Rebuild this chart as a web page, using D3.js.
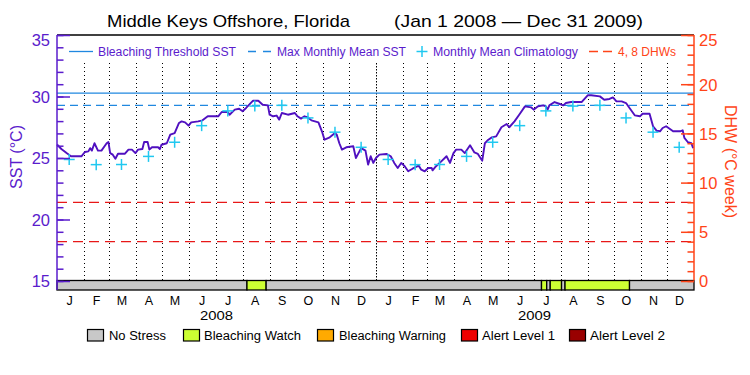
<!DOCTYPE html>
<html><head><meta charset="utf-8">
<script src="https://cdn.jsdelivr.net/npm/d3@7"></script>
<style>
body{margin:0;background:#fff}
svg{display:block}
text{font-family:"Liberation Sans",Arial,sans-serif}
</style>
</head><body>
<svg id="c" width="750" height="375"></svg>
<script>
// ---------------- data ----------------
const sstDates = [
"2008-01-01","2008-01-06","2008-01-12","2008-01-17","2008-01-29","2008-02-02","2008-02-06","2008-02-08","2008-02-10","2008-02-13",
"2008-02-17","2008-02-21","2008-02-27","2008-02-29","2008-03-02","2008-03-05","2008-03-08","2008-03-11","2008-03-19","2008-03-23",
"2008-03-27","2008-03-31","2008-04-03","2008-04-08","2008-04-10","2008-04-14","2008-04-16","2008-04-19","2008-04-26","2008-04-28",
"2008-04-30","2008-05-06","2008-05-10","2008-05-15","2008-05-20","2008-05-23","2008-05-27","2008-05-31","2008-06-03","2008-06-11",
"2008-06-16","2008-06-22","2008-07-04","2008-07-08","2008-07-15","2008-07-17","2008-07-23","2008-07-28","2008-08-01","2008-08-05",
"2008-08-13","2008-08-19","2008-08-24","2008-08-30","2008-09-01","2008-09-05","2008-09-09","2008-09-12","2008-09-15","2008-09-22",
"2008-09-30","2008-10-03","2008-10-07","2008-10-11","2008-10-15","2008-10-19","2008-10-27","2008-10-31","2008-11-03","2008-11-09",
"2008-11-15","2008-11-17","2008-11-20","2008-11-23","2008-11-28","2008-12-06","2008-12-09","2008-12-12","2008-12-15","2008-12-20",
"2008-12-23","2008-12-26","2008-12-29","2009-01-01","2009-01-05","2009-01-13","2009-01-18","2009-01-22","2009-01-26","2009-01-30",
"2009-02-03","2009-02-07","2009-02-12","2009-02-19","2009-02-22","2009-02-26","2009-03-02","2009-03-06","2009-03-07","2009-03-11",
"2009-03-17","2009-03-23","2009-03-27","2009-03-31","2009-04-03","2009-04-09","2009-04-13","2009-04-19","2009-04-24","2009-04-28",
"2009-05-03","2009-05-06","2009-05-10","2009-05-14","2009-05-19","2009-05-25","2009-05-31","2009-06-03","2009-06-09","2009-06-15",
"2009-06-21","2009-06-28","2009-07-01","2009-07-06","2009-07-12","2009-07-15","2009-07-17","2009-07-19","2009-07-25","2009-07-31",
"2009-08-04","2009-08-07","2009-08-13","2009-08-25","2009-09-01","2009-09-05","2009-09-15","2009-09-20","2009-09-26","2009-09-30",
"2009-10-04","2009-10-10","2009-10-15","2009-10-19","2009-10-25","2009-10-31","2009-11-03","2009-11-11","2009-11-15","2009-11-19",
"2009-11-23","2009-11-26","2009-11-30","2009-12-04","2009-12-08","2009-12-16","2009-12-19","2009-12-21","2009-12-25","2009-12-29",
"2009-12-31"];
const sstValues = [
26.1,25.73,25.4,25.14,25.14,25.49,25.54,25.8,25.6,26.2,
25.6,25.6,26.2,26.3,25.4,25.27,24.94,25.35,25.35,25.68,
25.68,25.4,25.68,25.73,26.3,26.3,25.68,25.87,25.87,25.73,
26.08,26.2,26.9,27.03,27.85,27.98,27.9,27.63,27.9,27.98,
28.06,28.39,28.39,28.74,28.74,28.52,28.93,29.0,28.8,29.07,
29.66,29.66,29.33,29.28,28.52,28.39,28.45,28.12,28.66,28.52,
28.66,28.39,28.2,28.39,28.3,28.06,27.9,27.17,26.49,26.68,
27.03,26.9,26.2,25.68,25.87,25.95,25.0,25.4,25.8,25.6,
24.46,25.14,24.6,25.0,25.27,25.33,25.14,24.6,24.19,24.6,
24.33,23.92,24.13,24.38,24.05,23.92,24.19,24.19,24.0,24.33,
24.73,25.14,24.6,25.4,25.68,25.68,25.4,26.03,25.45,25.33,
24.78,26.2,26.49,26.68,26.76,27.5,27.76,27.5,27.98,28.58,
29.2,29.12,28.93,29.2,29.28,29.2,28.93,29.28,29.55,29.39,
29.28,29.47,29.55,29.55,30.1,30.1,30.01,29.74,29.8,29.93,
29.6,29.6,29.47,29.07,28.47,28.39,28.6,28.6,27.58,27.22,
27.17,27.44,27.58,27.38,27.17,27.17,27.25,26.63,26.28,26.2,
25.8];

const climYears = [2008, 2009];
const climValues = [24.88, 24.46, 24.47, 25.13, 26.28, 27.63, 28.83, 29.22, 29.28, 28.26, 27.1, 25.87];
const bleachingThreshold = 30.28;
const maxMonthlyMean = 29.28;
const dhwLevels = [4, 8];

const monthLabels = ["J","F","M","A","M","J","J","A","S","O","N","D"];
const yearLabels = ["2008","2009"];
const sstTicks = [15,20,25,30,35];
const dhwTicks = [0,5,10,15,20,25];

const statusStart = ["2008-01-01","2008-08-06","2008-08-28","2009-07-10","2009-07-16","2009-07-20","2009-08-02","2009-08-06","2009-10-19"];
const statusEnd   = ["2008-08-06","2008-08-28","2009-07-10","2009-07-16","2009-07-20","2009-08-02","2009-08-06","2009-10-19","2010-01-01"];
const statusLevel = [0,1,0,1,0,1,0,1,0];
const statusNames = ["No Stress","Bleaching Watch","Bleaching Warning","Alert Level 1","Alert Level 2"];

// ---------------- styles ----------------
const statusColors = ["#c8c8c8","#ccff33","#ffaa00","#ee0000","#990000"];
const PURPLE = "#5a1ccc", SSTLINE = "#5010c0", ORANGE = "#ff4418", RED = "#e81818",
      BLUE = "#2088e0", CYAN = "#20c8f0";

const svg = d3.select("#c");
const parse = d3.utcParse("%Y-%m-%d");
const L = 57, R = 694, T = 35, B = 290, BAR_TOP = 280.5;

const x = d3.scaleUtc().domain([parse("2008-01-01"), parse("2010-01-01")]).range([L, R]);
const yS = d3.scaleLinear().domain([15, 35]).range([281, 35]);
const yD = d3.scaleLinear().domain([0, 25]).range([281, 35]);

// ---------------- title ----------------
svg.append("text").attr("x",107).attr("y",27).attr("font-size",17).attr("fill","#000")
  .attr("textLength",243).attr("lengthAdjust","spacingAndGlyphs").text("Middle Keys Offshore, Florida");
svg.append("text").attr("x",394).attr("y",27).attr("font-size",17).attr("fill","#000")
  .attr("textLength",249).attr("lengthAdjust","spacingAndGlyphs").text("(Jan 1 2008 \u2014 Dec 31 2009)");

// ---------------- grid ----------------
const months = d3.utcMonth.range(parse("2008-02-01"), parse("2010-01-01"));
svg.append("g").selectAll("line").data(months).join("line")
  .attr("x1", d => Math.round(x(d)) + 0.5).attr("x2", d => Math.round(x(d)) + 0.5)
  .attr("y1", 63).attr("y2", BAR_TOP)
  .attr("stroke", "#000").attr("stroke-width", 1)
  .attr("stroke-dasharray", d => d.getUTCMonth() === 0 ? "1.5,1.5" : "1,3");

// ---------------- reference lines ----------------
svg.append("line").attr("x1",L).attr("x2",R).attr("y1",yS(bleachingThreshold)).attr("y2",yS(bleachingThreshold))
  .attr("stroke",BLUE).attr("stroke-width",1.3);
svg.append("line").attr("x1",L).attr("x2",R).attr("y1",yS(maxMonthlyMean)).attr("y2",yS(maxMonthlyMean))
  .attr("stroke",BLUE).attr("stroke-width",1.3).attr("stroke-dasharray","8,5");
svg.append("g").selectAll("line").data(dhwLevels).join("line")
  .attr("x1",L).attr("x2",R).attr("y1",d=>yD(d)).attr("y2",d=>yD(d))
  .attr("stroke",RED).attr("stroke-width",1.3).attr("stroke-dasharray","10,6");

// ---------------- SST line ----------------
const sstData = sstDates.map((d,i)=>({date:parse(d), v:sstValues[i]}));
svg.append("path").datum(sstData)
  .attr("d", d3.line().x(d=>x(d.date)).y(d=>yS(d.v)))
  .attr("fill","none").attr("stroke",SSTLINE).attr("stroke-width",1.9).attr("stroke-linejoin","round");

// ---------------- climatology pluses ----------------
const clim = [];
climYears.forEach(yr => climValues.forEach((v,m) => clim.push({date:new Date(Date.UTC(yr,m,15)), v})));
const plus = svg.append("g").selectAll("g").data(clim).join("g")
  .attr("transform", d=>`translate(${x(d.date)},${yS(d.v)})`);
plus.append("line").attr("x1",-5.5).attr("x2",5.5).attr("stroke",CYAN).attr("stroke-width",1.5);
plus.append("line").attr("y1",-5.5).attr("y2",5.5).attr("stroke",CYAN).attr("stroke-width",1.5);

// ---------------- status bar ----------------
svg.append("g").selectAll("rect").data(statusLevel).join("rect")
  .attr("x", (d,i)=>x(parse(statusStart[i])))
  .attr("width", (d,i)=>x(parse(statusEnd[i])) - x(parse(statusStart[i])))
  .attr("y", BAR_TOP).attr("height", B - BAR_TOP)
  .attr("fill", d=>statusColors[d]).attr("stroke","#000").attr("stroke-width",1.3);

// ---------------- axes ----------------
svg.append("line").attr("x1",L).attr("x2",R).attr("y1",T).attr("y2",T).attr("stroke","#000").attr("stroke-width",1.5);
// left axis
const gl = svg.append("g").attr("transform",`translate(${L},0)`)
  .call(d3.axisLeft(yS).tickValues(d3.range(15,36,1)).tickSize(-6.5).tickFormat(""));
gl.select(".domain").remove();
gl.selectAll("line").attr("stroke",PURPLE).attr("stroke-width",1.5);
const glm = svg.append("g").attr("transform",`translate(${L},0)`)
  .call(d3.axisLeft(yS).tickValues(sstTicks).tickSize(-13).tickPadding(7).tickFormat(d3.format("d")));
glm.select(".domain").remove();
glm.selectAll("line").attr("stroke",PURPLE).attr("stroke-width",1.5);
glm.selectAll("text").attr("font-size",16.5).attr("font-family","Liberation Sans").attr("fill",PURPLE)
  .attr("dy", d => d === 35 ? "0.66em" : "0.36em");
svg.append("line").attr("x1",L).attr("x2",L).attr("y1",T).attr("y2",B).attr("stroke",PURPLE).attr("stroke-width",1.5);

// right axis
const gr = svg.append("g").attr("transform",`translate(${R},0)`)
  .call(d3.axisRight(yD).tickValues(d3.range(0,26,1)).tickSize(-6.5).tickFormat(""));
gr.select(".domain").remove();
gr.selectAll("line").attr("stroke",ORANGE).attr("stroke-width",1.5);
const grm = svg.append("g").attr("transform",`translate(${R},0)`)
  .call(d3.axisRight(yD).tickValues(dhwTicks).tickSize(-13).tickPadding(5).tickFormat(d3.format("d")));
grm.select(".domain").remove();
grm.selectAll("line").attr("stroke",ORANGE).attr("stroke-width",1.5);
grm.selectAll("text").attr("font-size",16.5).attr("font-family","Liberation Sans").attr("fill",ORANGE)
  .attr("dy", d => d === 25 ? "0.66em" : "0.36em");
svg.append("line").attr("x1",R).attr("x2",R).attr("y1",T).attr("y2",BAR_TOP).attr("stroke",ORANGE).attr("stroke-width",1.5);

// bottom axis labels
const monthStarts = d3.utcMonth.range(parse("2008-01-01"), parse("2010-01-01"));
svg.append("g").selectAll("text").data(monthStarts).join("text")
  .attr("x", d => x(new Date(+d + 14.5*864e5)))
  .attr("y", 305).attr("text-anchor","middle").attr("font-size",12.5).attr("fill","#000")
  .text(d => monthLabels[d.getUTCMonth()]);
svg.append("g").selectAll("text").data(yearLabels).join("text")
  .attr("x", d => x(new Date(Date.UTC(+d,6,2))) - 16.5)
  .attr("y", 320).attr("font-size",13).attr("fill","#000")
  .attr("textLength",33).attr("lengthAdjust","spacingAndGlyphs").text(d=>d);

// axis titles
svg.append("text").attr("transform","translate(21.5,157) rotate(-90)").attr("text-anchor","middle")
  .attr("font-size",16.5).attr("fill",PURPLE).attr("textLength",64).attr("lengthAdjust","spacingAndGlyphs").text("SST (\u00B0C)");
svg.append("text").attr("transform","translate(725,161.5) rotate(90)").attr("text-anchor","middle")
  .attr("font-size",17).attr("fill",ORANGE).attr("textLength",113).attr("lengthAdjust","spacingAndGlyphs").text("DHW (\u00B0C week)");

// ---------------- top legend ----------------
const lg = svg.append("g");
const LY = 51.5;
lg.append("line").attr("x1",69).attr("x2",93).attr("y1",LY).attr("y2",LY).attr("stroke",BLUE).attr("stroke-width",1.3);
lg.append("text").attr("x",98).attr("y",55.5).attr("font-size",12).attr("fill",PURPLE)
  .attr("textLength",138).attr("lengthAdjust","spacingAndGlyphs").text("Bleaching Threshold SST");
lg.append("line").attr("x1",248).attr("x2",271).attr("y1",LY).attr("y2",LY).attr("stroke",BLUE).attr("stroke-width",1.3).attr("stroke-dasharray","8,7");
lg.append("text").attr("x",277).attr("y",55.5).attr("font-size",12).attr("fill",PURPLE)
  .attr("textLength",129).attr("lengthAdjust","spacingAndGlyphs").text("Max Monthly Mean SST");
lg.append("line").attr("x1",416.5).attr("x2",427.5).attr("y1",LY).attr("y2",LY).attr("stroke",CYAN).attr("stroke-width",1.5);
lg.append("line").attr("x1",422).attr("x2",422).attr("y1",LY-5.5).attr("y2",LY+5.5).attr("stroke",CYAN).attr("stroke-width",1.5);
lg.append("text").attr("x",433).attr("y",55.5).attr("font-size",12).attr("fill",PURPLE)
  .attr("textLength",145).attr("lengthAdjust","spacingAndGlyphs").text("Monthly Mean Climatology");
lg.append("line").attr("x1",589).attr("x2",612).attr("y1",LY).attr("y2",LY).attr("stroke",ORANGE).attr("stroke-width",1.3).attr("stroke-dasharray","9,5");
lg.append("text").attr("x",618).attr("y",55.5).attr("font-size",12).attr("fill",ORANGE)
  .attr("textLength",58).attr("lengthAdjust","spacingAndGlyphs").text("4, 8 DHWs");

// ---------------- bottom legend ----------------
const boxX = [87,183,317,461,569];
const txtX = [109,204,339,482,590];
const txtW = [57,97,107,73,75];
const bl = svg.append("g").selectAll("g").data(statusNames).join("g");
bl.append("rect").attr("x",(d,i)=>boxX[i]+0.5).attr("y",329.5).attr("width",16).attr("height",11.5)
  .attr("fill",(d,i)=>statusColors[i]).attr("stroke","#000").attr("stroke-width",1.2);
bl.append("text").attr("x",(d,i)=>txtX[i]).attr("y",340).attr("font-size",12.5).attr("fill","#000")
  .attr("textLength",(d,i)=>txtW[i]).attr("lengthAdjust","spacingAndGlyphs").text(d=>d);
</script>
</body></html>
